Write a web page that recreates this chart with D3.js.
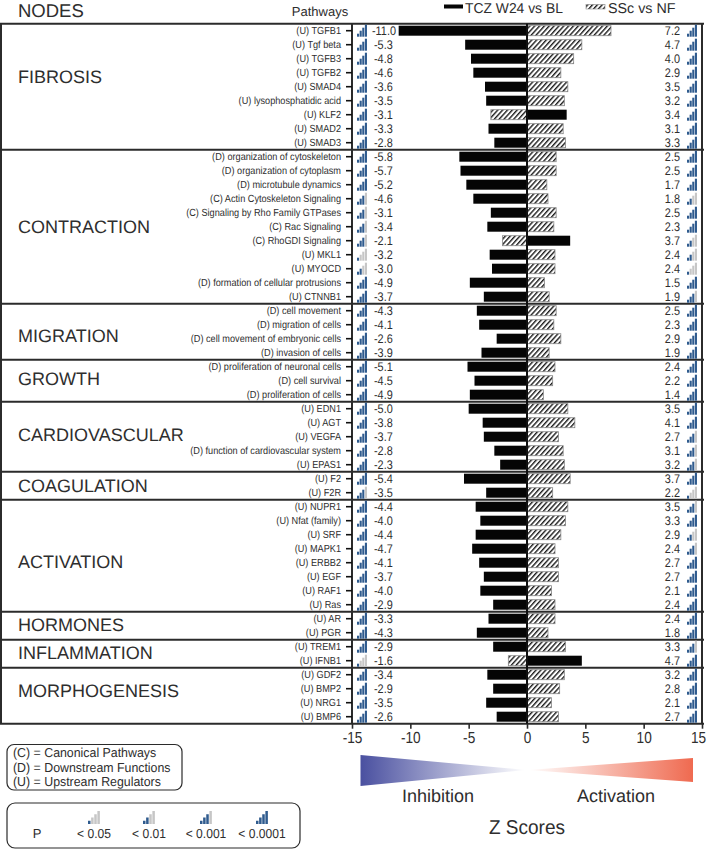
<!DOCTYPE html>
<html><head><meta charset="utf-8">
<script src="https://cdn.jsdelivr.net/npm/d3@7/dist/d3.min.js"></script>
<style>html,body{margin:0;padding:0;background:#fff}svg{display:block}text{font-family:"Liberation Sans",Arial,sans-serif;text-rendering:geometricPrecision}</style>
</head><body><div id="chart"></div>
<script>
const groupNames=["FIBROSIS","CONTRACTION","MIGRATION","GROWTH","CARDIOVASCULAR","COAGULATION","ACTIVATION","HORMONES","INFLAMMATION","MORPHOGENESIS"];
const groupSizes=[9,11,4,3,5,2,8,2,2,4];
const pathways=["(U) TGFB1","(U) Tgf beta","(U) TGFB3","(U) TGFB2","(U) SMAD4","(U) lysophosphatidic acid","(U) KLF2","(U) SMAD2","(U) SMAD3",
"(D) organization of cytoskeleton","(D) organization of cytoplasm","(D) microtubule dynamics","(C) Actin Cytoskeleton Signaling","(C) Signaling by Rho Family GTPases","(C) Rac Signaling","(C) RhoGDI Signaling","(U) MKL1","(U) MYOCD","(D) formation of cellular protrusions","(U) CTNNB1",
"(D) cell movement","(D) migration of cells","(D) cell movement of embryonic cells","(D) invasion of cells",
"(D) proliferation of neuronal cells","(D) cell survival","(D) proliferation of cells",
"(U) EDN1","(U) AGT","(U) VEGFA","(D) function of cardiovascular system","(U) EPAS1",
"(U) F2","(U) F2R",
"(U) NUPR1","(U) Nfat (family)","(U) SRF","(U) MAPK1","(U) ERBB2","(U) EGF","(U) RAF1","(U) Ras",
"(U) AR","(U) PGR","(U) TREM1","(U) IFNB1","(U) GDF2","(U) BMP2","(U) NRG1","(U) BMP6"];
const tczW24=[-11.0,-5.3,-4.8,-4.6,-3.6,-3.5,3.4,-3.3,-2.8,
-5.8,-5.7,-5.2,-4.6,-3.1,-3.4,3.7,-3.2,-3.0,-4.9,-3.7,
-4.3,-4.1,-2.6,-3.9,-5.1,-4.5,-4.9,
-5.0,-3.8,-3.7,-2.8,-2.3,-5.4,-3.5,
-4.4,-4.0,-4.4,-4.7,-4.1,-3.7,-4.0,-2.9,
-3.3,-4.3,-2.9,4.7,-3.4,-2.9,-3.5,-2.6];
const sscNF=[7.2,4.7,4.0,2.9,3.5,3.2,-3.1,3.1,3.3,
2.5,2.5,1.7,1.8,2.5,2.3,-2.1,2.4,2.4,1.5,1.9,
2.5,2.3,2.9,1.9,2.4,2.2,1.4,
3.5,4.1,2.7,3.1,3.2,3.7,2.2,
3.5,3.3,2.9,2.4,2.7,2.7,2.1,2.4,
2.4,1.8,3.3,-1.6,3.2,2.8,2.1,2.7];
const leftSignal=[4,4,4,4,4,4,4,4,4, 4,4,4,3,3,3,3,1,2,4,4, 4,4,4,4, 4,4,4, 4,4,4,4,4, 4,3, 4,4,4,4,4,4,4,4, 4,4, 4,1, 4,4,4,4];
const rightSignal=[4,4,4,4,4,4,4,4,4, 4,4,4,2,4,4,2,2,1,4,3, 4,4,4,4, 4,4,4, 4,4,3,3,3, 4,1, 3,4,2,3,4,4,4,4, 4,4, 3,4, 4,4,4,4];
const xTicks=[-15,-10,-5,0,5,10,15];
const legendSeries=["TCZ W24 vs BL","SSc vs NF"];
const typeNotes=["(C) = Canonical Pathways","(D) = Downstream Functions","(U) = Upstream Regulators"];
const pLabels=["< 0.05","< 0.01","< 0.001","< 0.0001"];
const pLevels=[1,2,3,4];

const W=708,H=849,INK="#2b2b2b",TXT="#2e2e2e";
const svg=d3.select("#chart").append("svg").attr("width",W).attr("height",H);
// squeeze text horizontally, as the reference's glyphs are narrow
function squeeze(sel,k){sel.each(function(){const l=this.getComputedTextLength();this.setAttribute("textLength",l*k);this.setAttribute("lengthAdjust","spacingAndGlyphs");});return sel;}
const defs=svg.append("defs");
const pat=defs.append("pattern").attr("id","hatch").attr("patternUnits","userSpaceOnUse").attr("width",3.6).attr("height",3.6).attr("patternTransform","rotate(42)");
pat.append("rect").attr("width",3.6).attr("height",3.6).attr("fill","#fff");
pat.append("rect").attr("width",1.4).attr("height",3.6).attr("fill","#1a1a1a");
const g1=defs.append("linearGradient").attr("id","inh");
g1.append("stop").attr("offset","0").attr("stop-color","#4a50a0");
g1.append("stop").attr("offset","1").attr("stop-color","#fff");
const g2=defs.append("linearGradient").attr("id","act");
g2.append("stop").attr("offset","0").attr("stop-color","#fff");
g2.append("stop").attr("offset","1").attr("stop-color","#ef6a50");

const x=d3.scaleLinear().domain([-15,15]).range([352,702]);
const y=d3.scaleBand().domain(d3.range(pathways.length)).range([23.7,723.7]);
const bh=10;

function bars(vals,fill,stroke){
  svg.append("g").selectAll("rect").data(vals).join("rect")
   .attr("x",d=>Math.min(x(d),x(0))).attr("width",d=>Math.abs(x(d)-x(0)))
   .attr("y",(d,i)=>y(i)+(y.bandwidth()-bh)/2).attr("height",bh)
   .attr("fill",fill).attr("stroke",stroke).attr("stroke-width",stroke==="none"?0:0.8);
}
bars(sscNF,"url(#hatch)","#888");
bars(tczW24,"#050505","none");

let start=0;const bounds=[0];
groupSizes.forEach(n=>{start+=n;bounds.push(start)});
const yEdge=k=>k<pathways.length?y(k):y(pathways.length-1)+y.bandwidth();
svg.append("g").selectAll("line").data(bounds).join("line")
 .attr("x1",0).attr("x2",704).attr("y1",yEdge).attr("y2",yEdge)
 .attr("stroke",INK).attr("stroke-width",2);
[1,352,702].forEach(v=>svg.append("line").attr("x1",v).attr("x2",v).attr("y1",y.range()[0]).attr("y2",y.range()[1]).attr("stroke",INK).attr("stroke-width",2));
svg.append("line").attr("x1",x(0)).attr("x2",x(0)).attr("y1",y.range()[0]).attr("y2",y.range()[1]).attr("stroke","#111").attr("stroke-width",2);

const ya=svg.append("g").attr("transform","translate(352,0)")
 .call(d3.axisLeft(y).tickSize(6).tickPadding(5).tickFormat(i=>pathways[i]));
ya.select(".domain").remove();
ya.selectAll("line").attr("stroke","#111").attr("stroke-width",1.6);
squeeze(ya.selectAll("text").attr("font-size",10.3).attr("fill",TXT).style("font-family",'"Liberation Sans",Arial,sans-serif'),0.89);

const xa=svg.append("g").attr("transform",`translate(0,${y.range()[1]})`)
 .call(d3.axisBottom(x).tickValues(xTicks).tickSize(5).tickPadding(3).tickFormat(d=>String(d)));
xa.select(".domain").remove();
xa.selectAll("line").attr("stroke",INK).attr("stroke-width",1.6);
squeeze(xa.selectAll("text").attr("font-size",16).attr("fill",TXT).style("font-family",'"Liberation Sans",Arial,sans-serif').attr("dx",d=>d===15?-4:0),0.85);

const lefts=tczW24.map((d,i)=>Math.min(d,sscNF[i])),rights=tczW24.map((d,i)=>Math.max(d,sscNF[i]));
squeeze(svg.append("g").selectAll("text").data(lefts).join("text")
 .attr("x",d=>d<=-10?x.range()[0]+20:x.range()[0]+22).attr("y",(d,i)=>y(i)+y.bandwidth()/2+4.5)
 .attr("font-size",12.5).attr("fill",TXT).text(d=>d.toFixed(1)),0.87);
squeeze(svg.append("g").selectAll("text").data(rights).join("text")
 .attr("x",680).attr("text-anchor","end").attr("y",(d,i)=>y(i)+y.bandwidth()/2+4.5)
 .attr("font-size",12.5).attr("fill",TXT).text(d=>d.toFixed(1)),0.87);

const DARK="#2f5b8e",LIGHT="#c6c6c6";
function icon(parent,ox,base,level,w,h){
  const bw=w/4*0.8;
  d3.range(4).forEach(k=>{
    parent.append("rect").attr("x",ox+k*w/4).attr("width",bw)
      .attr("y",base-h*(k+1)/4).attr("height",h*(k+1)/4)
      .attr("fill",k<level?DARK:LIGHT);
  });
}
const ig=svg.append("g");
leftSignal.forEach((l,i)=>icon(ig,357,y(i)+y.bandwidth()/2+6,l,10.5,12));
rightSignal.forEach((l,i)=>icon(ig,687,y(i)+y.bandwidth()/2+6,l,10.5,12));

const nudge=[-10,0,4,-2,-2,0,6,-1,-1,-5];
let s2=0;
groupNames.forEach((n,i)=>{
  const c=(yEdge(s2)+yEdge(s2+groupSizes[i]))/2;s2+=groupSizes[i];
  svg.append("text").attr("x",18).attr("y",c+nudge[i]+6.5).attr("font-size",18).attr("fill",TXT).text(n);
});

svg.append("text").attr("x",18).attr("y",17).attr("font-size",18.5).attr("fill",TXT).text("NODES");
svg.append("text").attr("x",320).attr("y",16).attr("text-anchor","middle").attr("font-size",13).attr("fill",TXT).text("Pathways");
svg.append("rect").attr("x",444).attr("y",4.5).attr("width",19).attr("height",4).attr("fill","#050505");
squeeze(svg.append("text").attr("x",465).attr("y",13).attr("font-size",14.3).attr("fill",TXT).text(legendSeries[0]),0.97);
svg.append("rect").attr("x",586).attr("y",4.5).attr("width",19).attr("height",4.5).attr("fill","url(#hatch)").attr("stroke","#888").attr("stroke-width",.6);
squeeze(svg.append("text").attr("x",608).attr("y",13).attr("font-size",14.3).attr("fill",TXT).text(legendSeries[1]),1);

svg.append("rect").attr("x",7).attr("y",744.5).attr("width",175).attr("height",45.5).attr("rx",7).attr("fill","none").attr("stroke",INK).attr("stroke-width",1.2);
typeNotes.forEach((t,i)=>squeeze(svg.append("text").attr("x",13).attr("y",757+i*14.5).attr("font-size",13).attr("fill",TXT).text(t),0.95));
svg.append("rect").attr("x",7).attr("y",803).attr("width",293).attr("height",45).attr("rx",8).attr("fill","none").attr("stroke",INK).attr("stroke-width",1.2);
svg.append("text").attr("x",37).attr("y",838).attr("text-anchor","middle").attr("font-size",13).attr("fill",TXT).text("P");
const pX=[94,149,206,262];
pLabels.forEach((t,i)=>{
  squeeze(svg.append("text").attr("x",pX[i]).attr("y",838).attr("text-anchor","middle").attr("font-size",13).attr("fill",TXT).text(t),0.93);
  icon(svg,pX[i]-6,824,pLevels[i],12.5,13);
});

svg.append("path").attr("d","M360.5,755L360.5,786L526,770Z").attr("fill","url(#inh)");
svg.append("path").attr("d","M528,770L693,758L693,782Z").attr("fill","url(#act)");
svg.append("text").attr("x",438).attr("y",802).attr("text-anchor","middle").attr("font-size",18).attr("fill",TXT).text("Inhibition");
svg.append("text").attr("x",616).attr("y",802).attr("text-anchor","middle").attr("font-size",18).attr("fill",TXT).text("Activation");
squeeze(svg.append("text").attr("x",527).attr("y",834).attr("text-anchor","middle").attr("font-size",20).attr("fill",TXT).text("Z Scores"),0.95);
</script></body></html>
